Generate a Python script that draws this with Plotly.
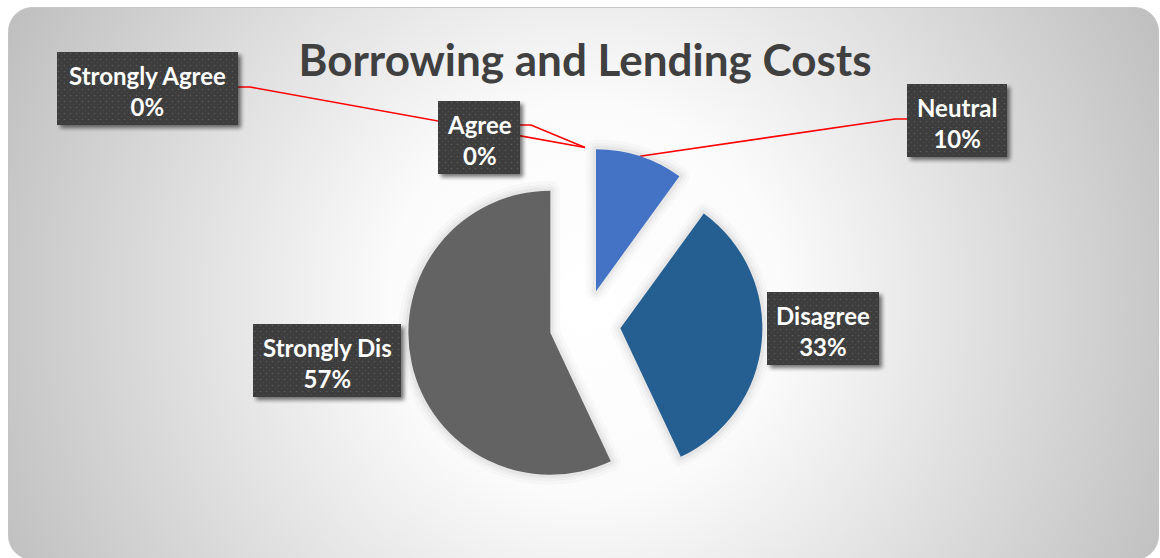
import base64
import math
import plotly.graph_objects as go

# ---- data -------------------------------------------------------------
categories = ["Strongly Agree", "Agree", "Neutral", "Disagree", "Strongly Dis"]
shares = [0, 0, 10, 33, 57]          # percent of respondents
colors = ["#ED7D31", "#A5A5A5", "#4472C4", "#255E91", "#636363"]
chart_title = "Borrowing and Lending Costs"

# ---- layout constants (pixels) ---------------------------------------
W, H = 1160, 558
PULL = 0.25                 # every slice is exploded by this fraction of r
CX, CY = 585, 325           # pie centre
R = 142                     # slice radius
FONT = "Lato"

# label boxes: left, top, width, height
label_boxes = {
    "Strongly Agree": (57, 52, 181, 73),
    "Agree": (438, 101, 82, 73),
    "Neutral": (907, 84, 100, 73),
    "Disagree": (767, 292, 112, 73),
    "Strongly Dis": (253, 324, 148, 73),
}
# leader line start + elbow for the labels that sit away from their slice
leader_starts = {
    "Strongly Agree": [(238, 87), (250, 87)],
    "Agree": [(520, 125), (531, 125)],
    "Neutral": [(907, 119), (895, 119)],
}


def px(x, y):
    """pixel position -> paper coordinates"""
    return x / W, 1 - y / H


def data_uri(svg):
    return "data:image/svg+xml;base64," + base64.b64encode(svg.encode()).decode()


# slice geometry, used to anchor the leader lines on the slice edges
total = sum(shares)
anchors = {}
acc = 0.0
for cat, v in zip(categories, shares):
    mid = math.radians(360 * (acc + v / 2) / total)
    acc += v
    ox = CX + PULL * R * math.sin(mid)
    oy = CY - PULL * R * math.cos(mid)
    anchors[cat] = (ox + R * math.sin(mid), oy - R * math.cos(mid))

half = R * (1 + PULL)
domain = dict(
    x=[(CX - half) / W, (CX + half) / W],
    y=[1 - (CY + half) / H, 1 - (CY - half) / H],
)

fig = go.Figure()

# soft haze around the slices (no stroke on empty slices)
for width, alpha in [(20, 0.02), (13, 0.028), (7, 0.04)]:
    fig.add_trace(go.Pie(
        labels=categories, values=shares, sort=False, direction="clockwise",
        rotation=0, pull=PULL, domain=domain, textinfo="none",
        hoverinfo="skip", showlegend=False,
        marker=dict(colors=["rgba(0,0,0,0)"] * len(shares),
                    line=dict(color=f"rgba(0,0,0,{alpha})",
                              width=[width if v > 0 else 0 for v in shares])),
    ))

fig.add_trace(go.Pie(
    labels=categories, values=shares, sort=False, direction="clockwise",
    rotation=0, pull=PULL, domain=domain, textinfo="none",
    showlegend=False,
    marker=dict(colors=colors, line=dict(width=0)),
))

# ---- background panel -------------------------------------------------
bg_svg = f"""<svg xmlns="http://www.w3.org/2000/svg" width="{W}" height="{H}" viewBox="0 0 {W} {H}">
<defs>
<radialGradient id="g" gradientUnits="userSpaceOnUse" cx="585" cy="300" r="650">
<stop offset="0" stop-color="#ffffff"/>
<stop offset="0.3" stop-color="#fbfbfb"/>
<stop offset="1" stop-color="#bebebe"/>
</radialGradient>
</defs>
<rect x="0" y="0" width="{W}" height="{H}" fill="#ffffff"/>
<rect x="8.5" y="7.5" width="1150" height="552" rx="24" ry="24" fill="url(#g)" stroke="#c4c4c4" stroke-width="1"/>
</svg>"""

images = [dict(source=data_uri(bg_svg), xref="paper", yref="paper", x=0, y=1,
               sizex=1, sizey=1, xanchor="left", yanchor="top",
               sizing="stretch", layer="below")]

# dark dotted label boxes with a drop shadow
SH = 10
for cat, (left, top, w, h) in label_boxes.items():
    box_svg = f"""<svg xmlns="http://www.w3.org/2000/svg" width="{w + SH}" height="{h + SH}" viewBox="0 0 {w + SH} {h + SH}">
<defs>
<filter id="s" x="-10%" y="-10%" width="130%" height="130%">
<feGaussianBlur in="SourceAlpha" stdDeviation="2"/>
<feOffset dx="3" dy="3" result="b"/>
<feComponentTransfer><feFuncA type="linear" slope="0.55"/></feComponentTransfer>
<feMerge><feMergeNode/><feMergeNode in="SourceGraphic"/></feMerge>
</filter>
<pattern id="d" width="6" height="6" patternUnits="userSpaceOnUse">
<rect width="6" height="6" fill="#3d3d3d"/>
<circle cx="1.5" cy="1.5" r="0.8" fill="#5a5a5a"/>
<circle cx="4.5" cy="4.5" r="0.8" fill="#4c4c4c"/>
</pattern>
</defs>
<rect x="0" y="0" width="{w}" height="{h}" fill="url(#d)" filter="url(#s)"/>
</svg>"""
    x0, y0 = px(left, top)
    images.append(dict(source=data_uri(box_svg), xref="paper", yref="paper",
                       x=x0, y=y0, sizex=(w + SH) / W, sizey=(h + SH) / H,
                       xanchor="left", yanchor="top", sizing="stretch",
                       layer="above"))

# label text drawn from the same values as the slices
annotations = []
for cat, v in zip(categories, shares):
    left, top, w, h = label_boxes[cat]
    ax, ay = px(left + w / 2, top + h / 2 + 2)
    annotations.append(dict(
        x=ax, y=ay, xref="paper", yref="paper", xanchor="center",
        yanchor="middle", showarrow=False,
        text=f"<b>{cat}</b><br><b>{v}%</b>",
        font=dict(family=FONT, size=24, color="#ffffff"),
    ))

# red leader lines
shapes = []
for cat, pts in leader_starts.items():
    path_pts = pts + [anchors[cat]]
    d = ""
    for i, (x, y) in enumerate(path_pts):
        pxx, pyy = px(x, y)
        d += ("M" if i == 0 else " L") + f" {pxx:.5f} {pyy:.5f}"
    shapes.append(dict(type="path", path=d, xref="paper", yref="paper",
                       line=dict(color="#ff0000", width=1.6), layer="below"))

tx, ty = px(585, 61)
fig.update_layout(
    width=W, height=H,
    margin=dict(l=0, r=0, t=0, b=0),
    paper_bgcolor="#ffffff",
    plot_bgcolor="rgba(0,0,0,0)",
    title=dict(text=f"<b>{chart_title}</b>", x=tx, y=ty, xref="paper",
               yref="paper", xanchor="center", yanchor="middle",
               font=dict(family=FONT, size=44, color="#404040")),
    images=images,
    annotations=annotations,
    shapes=shapes,
)

fig.write_html("out.html")
